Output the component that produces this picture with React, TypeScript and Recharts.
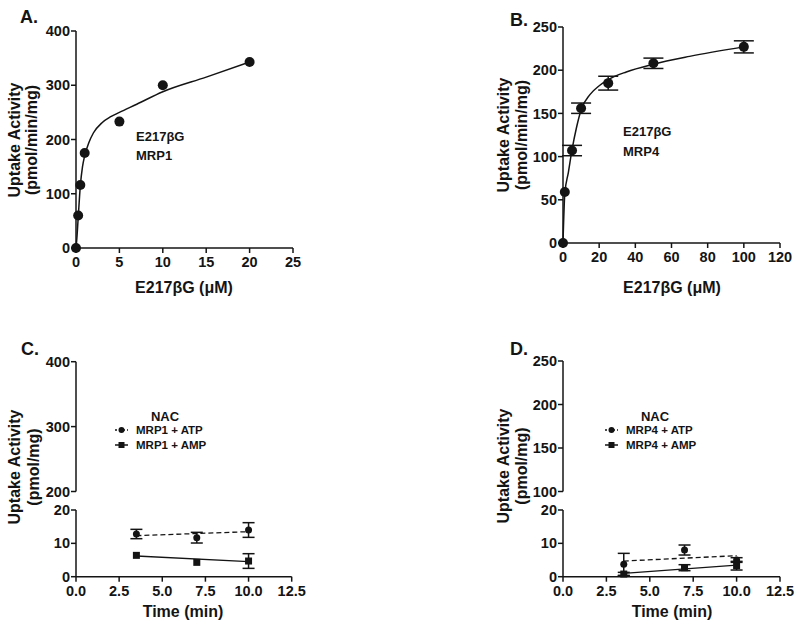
import { ComposedChart, Line, Scatter, XAxis, YAxis, ErrorBar, Legend } from "recharts";

// A: E217bG uptake by MRP1
const concA = [0, 0.25, 0.5, 1, 5, 10, 20];
const uptakeA = [0, 60, 116, 175, 233, 300, 343];
const fitConcA = [0, 0.1, 0.25, 0.5, 0.75, 1, 1.5, 2, 3, 4, 5, 7, 10, 15, 20];
const fitUptakeA = [0, 18, 55, 115, 150, 170, 195, 212, 231, 242, 250, 265, 288, 315, 343];

// B: E217bG uptake by MRP4
const concB = [0, 1, 5, 10, 25, 50, 100];
const uptakeB = [0, 59, 107, 156, 185, 208, 227];
const semB = [0, 0, 6, 6, 8, 6, 7];
const fitConcB = [0, 1, 3, 5, 7.5, 10, 15, 20, 25, 35, 50, 70, 100];
const fitUptakeB = [0, 57, 82, 108, 134, 154, 172, 182, 189, 198, 207, 216, 227];

// C / D: NAC time course
const time = [3.5, 7, 10];
const fitTime = [3.5, 10];

const atpC = [12.8, 11.7, 14];
const semAtpC = [1.4, 1.6, 2.2];
const ampC = [6.4, 4.3, 4.7];
const semAmpC = [0, 0, 2.2];
const fitAtpC = [12.3, 13.5];
const fitAmpC = [6.2, 4.5];

const atpD = [3.7, 8.0, 5.0];
const semAtpD = [3.3, 1.5, 0.7];
const ampD = [0.8, 2.7, 3.3];
const semAmpD = [0.5, 0.9, 1.3];
const fitAtpD = [4.7, 6.3];
const fitAmpD = [1.0, 3.5];

const xTicksA = [0, 5, 10, 15, 20, 25];
const yTicksA = [0, 100, 200, 300, 400];
const xTicksB = [0, 20, 40, 60, 80, 100, 120];
const yTicksB = [0, 50, 100, 150, 200, 250];
const timeTicks = [0, 2.5, 5, 7.5, 10, 12.5];
const lowTicks = [0, 10, 20];
const upperTicksC = [200, 300, 400];
const upperTicksD = [100, 150, 200, 250];

const font = '"Liberation Sans", Arial, sans-serif';
const ink = "#141414";
const W = 400;

type Pt = { x: number; y: number; err: number };
const pts = (xs: number[], ys: number[], es?: number[]): Pt[] =>
  xs.map((x, i) => ({ x, y: ys[i], err: es ? es[i] : 0 }));

const tickProps = { fontSize: 14.5, fontWeight: 700, fill: ink, fontFamily: font };
const axisStroke = { stroke: ink, strokeWidth: 1.5 };

const circle = (r: number) => (p: any) => <circle cx={p.cx} cy={p.cy} r={r} fill={ink} />;
const square = (s: number) => (p: any) => (
  <rect x={p.cx - s / 2} y={p.cy - s / 2} width={s} height={s} fill={ink} />
);

const yTitle = (x1: number, x2: number, cy: number, l1: string, l2: string) => () => (
  <g fontFamily={font} fontWeight={700} fontSize={16} fill={ink}>
    <text x={x1} y={cy} transform={`rotate(-90 ${x1} ${cy})`} textAnchor="middle" dominantBaseline="central">
      {l1}
    </text>
    <text x={x2} y={cy} transform={`rotate(-90 ${x2} ${cy})`} textAnchor="middle" dominantBaseline="central">
      {l2}
    </text>
  </g>
);

const xTitle = (cx: number, y: number, s: string) => () => (
  <text x={cx} y={y} textAnchor="middle" fontFamily={font} fontWeight={700} fontSize={16} fill={ink}>
    {s}
  </text>
);

function CurvePanel(props: any) {
  const H = 310;
  const { left, axisX, plotTop, plotBottom, plotRight } = props;
  return (
    <div style={{ position: "absolute", left, top: 0, width: W, height: H }}>
      <ComposedChart
        width={W}
        height={H}
        margin={{ top: plotTop, left: axisX - 60, right: W - plotRight, bottom: H - plotBottom - 30 }}
      >
        <XAxis
          type="number"
          dataKey="x"
          domain={[0, props.xMax]}
          ticks={props.xTicks}
          interval={0}
          height={30}
          tickSize={5}
          tickMargin={4}
          tick={tickProps}
          axisLine={axisStroke}
          tickLine={axisStroke}
          label={props.xLabel}
        />
        <YAxis
          type="number"
          dataKey="y"
          domain={[0, props.yMax]}
          ticks={props.yTicks}
          interval={0}
          width={60}
          tickSize={5}
          tickMargin={1}
          tick={tickProps}
          axisLine={axisStroke}
          tickLine={axisStroke}
          label={props.yLabel}
        />
        <Line
          data={props.fit}
          dataKey="y"
          type="monotone"
          dot={false}
          stroke={ink}
          strokeWidth={1.5}
          legendType="none"
          isAnimationActive={false}
        />
        <Scatter data={props.points} fill={ink} shape={circle(5)} isAnimationActive={false}>
          {props.errW > 0 && (
            <ErrorBar dataKey="err" direction="y" width={props.errW} stroke={ink} strokeWidth={1.5} />
          )}
        </Scatter>
      </ComposedChart>
    </div>
  );
}

const NacLegend = ({ names }: { names: string[] }) => (
  <svg width={140} height={50} style={{ display: "block", overflow: "visible" }} fontFamily={font} fontWeight={700} fill={ink}>
    <text x={55} y={11} textAnchor="middle" dominantBaseline="central" fontSize={13}>
      NAC
    </text>
    <line x1={5} x2={18} y1={25} y2={25} stroke={ink} strokeWidth={1.5} strokeDasharray="2 2" />
    <circle cx={11.5} cy={25} r={3} fill={ink} />
    <text x={26} y={25} dominantBaseline="central" fontSize={11.5}>
      {names[0]}
    </text>
    <line x1={5} x2={18} y1={40} y2={40} stroke={ink} strokeWidth={1.5} />
    <rect x={8.5} y={37} width={6} height={6} fill={ink} />
    <text x={26} y={40} dominantBaseline="central" fontSize={11.5}>
      {names[1]}
    </text>
  </svg>
);

function TimePanel(props: any) {
  const H = 317;
  const TH = 200;
  const { left, axisX, plotRight } = props;
  const lowTop = 200;
  const lowBottom = 266.7;
  const mLeft = axisX - 60;
  const mRight = W - plotRight;
  const upMin = props.upperTicks[0];
  const upMax = props.upperTicks[props.upperTicks.length - 1];
  return (
    <div style={{ position: "absolute", left, top: 310, width: W, height: H }}>
      <div style={{ position: "absolute", left: 0, top: 0 }}>
        <ComposedChart
          width={W}
          height={H}
          margin={{ top: lowTop, left: mLeft, right: mRight, bottom: H - lowBottom - 30 }}
        >
          <XAxis
            type="number"
            dataKey="x"
            domain={[0, 12.5]}
            ticks={timeTicks}
            interval={0}
            height={30}
            tickSize={5}
            tickMargin={4}
            tick={tickProps}
            tickFormatter={(v: number) => v.toFixed(1)}
            axisLine={axisStroke}
            tickLine={axisStroke}
            label={props.xLabel}
          />
          <YAxis
            type="number"
            dataKey="y"
            domain={[0, 20]}
            ticks={lowTicks}
            interval={0}
            width={60}
            tickSize={5}
            tickMargin={1}
            tick={tickProps}
            axisLine={axisStroke}
            tickLine={axisStroke}
            label={props.yLabel}
          />
          <Line data={props.atpFit} dataKey="y" dot={false} stroke={ink} strokeWidth={1.3} strokeDasharray="5 3" legendType="none" isAnimationActive={false} />
          <Line data={props.ampFit} dataKey="y" dot={false} stroke={ink} strokeWidth={1.3} legendType="none" isAnimationActive={false} />
          <Scatter name={props.names[0]} data={props.atp} fill={ink} shape={circle(3.5)} isAnimationActive={false}>
            <ErrorBar dataKey="err" direction="y" width={6} stroke={ink} strokeWidth={1.5} />
          </Scatter>
          <Scatter name={props.names[1]} data={props.amp} fill={ink} shape={square(7)} isAnimationActive={false}>
            <ErrorBar dataKey="err" direction="y" width={6} stroke={ink} strokeWidth={1.5} />
          </Scatter>
          <Legend
            layout="vertical"
            verticalAlign="middle"
            align="center"
            wrapperStyle={{ left: props.legendLeft, top: 95, width: 140, height: 50 }}
            content={() => <NacLegend names={props.names} />}
          />
        </ComposedChart>
      </div>
      {/* upper segment of the broken y axis; the series fall below it and are clipped */}
      <div style={{ position: "absolute", left: 0, top: 0, pointerEvents: "none" }}>
        <ComposedChart
          width={W}
          height={TH}
          margin={{ top: props.upperTop, left: mLeft, right: mRight, bottom: TH - 181.5 }}
        >
          <XAxis type="number" dataKey="x" domain={[0, 12.5]} allowDataOverflow hide />
          <YAxis
            type="number"
            dataKey="y"
            domain={[upMin, upMax]}
            allowDataOverflow
            ticks={props.upperTicks}
            interval={0}
            width={60}
            tickSize={5}
            tickMargin={1}
            tick={tickProps}
            axisLine={axisStroke}
            tickLine={axisStroke}
          />
          <Line data={props.atpFit} dataKey="y" dot={false} stroke={ink} strokeWidth={1.3} strokeDasharray="5 3" legendType="none" isAnimationActive={false} />
        </ComposedChart>
      </div>
    </div>
  );
}

const labelStyle: any = { fontFamily: font, fontWeight: 700, fill: ink };

export default function App() {
  return (
    <div style={{ position: "absolute", left: 0, top: 0, width: 800, height: 627, background: "#fff" }}>
      <CurvePanel
        left={0}
        axisX={76}
        plotTop={31}
        plotBottom={248}
        plotRight={293}
        xMax={25}
        xTicks={xTicksA}
        yMax={400}
        yTicks={yTicksA}
        points={pts(concA, uptakeA)}
        fit={pts(fitConcA, fitUptakeA)}
        errW={0}
        xLabel={xTitle(184, 293, "E217\u03b2G (\u03bcM)")}
        yLabel={yTitle(14, 31, 140, "Uptake Activity", "(pmol/min/mg)")}
      />
      <CurvePanel
        left={400}
        axisX={163}
        plotTop={27}
        plotBottom={243}
        plotRight={380}
        xMax={120}
        xTicks={xTicksB}
        yMax={250}
        yTicks={yTicksB}
        points={pts(concB, uptakeB, semB)}
        fit={pts(fitConcB, fitUptakeB)}
        errW={10}
        xLabel={xTitle(272, 293, "E217\u03b2G (\u03bcM)")}
        yLabel={yTitle(103, 121, 135, "Uptake Activity", "(pmol/min/mg)")}
      />
      <TimePanel
        left={0}
        axisX={76}
        plotRight={291.7}
        upperTop={51.7}
        upperTicks={upperTicksC}
        atp={pts(time, atpC, semAtpC)}
        amp={pts(time, ampC, semAmpC)}
        atpFit={pts(fitTime, fitAtpC)}
        ampFit={pts(fitTime, fitAmpC)}
        names={["MRP1 + ATP", "MRP1 + AMP"]}
        legendLeft={110}
        xLabel={xTitle(183, 307, "Time (min)")}
        yLabel={yTitle(14, 33, 157, "Uptake Activity", "(pmol/mg)")}
      />
      <TimePanel
        left={400}
        axisX={163}
        plotRight={380}
        upperTop={51}
        upperTicks={upperTicksD}
        atp={pts(time, atpD, semAtpD)}
        amp={pts(time, ampD, semAmpD)}
        atpFit={pts(fitTime, fitAtpD)}
        ampFit={pts(fitTime, fitAmpD)}
        names={["MRP4 + ATP", "MRP4 + AMP"]}
        legendLeft={200}
        xLabel={xTitle(272, 307, "Time (min)")}
        yLabel={yTitle(103, 121, 156, "Uptake Activity", "(pmol/mg)")}
      />
      <svg width={800} height={627} style={{ position: "absolute", left: 0, top: 0, pointerEvents: "none" }}>
        <text x={20} y={23} fontSize={18} {...labelStyle}>A.</text>
        <text x={510} y={26} fontSize={18} {...labelStyle}>B.</text>
        <text x={21} y={355} fontSize={18} {...labelStyle}>C.</text>
        <text x={510} y={355} fontSize={18} {...labelStyle}>D.</text>
        <text x={136} y={141} fontSize={13} {...labelStyle}>E217{"\u03b2"}G</text>
        <text x={136} y={160} fontSize={13} {...labelStyle}>MRP1</text>
        <text x={623} y={136} fontSize={13} {...labelStyle}>E217{"\u03b2"}G</text>
        <text x={623} y={156} fontSize={13} {...labelStyle}>MRP4</text>
      </svg>
    </div>
  );
}
